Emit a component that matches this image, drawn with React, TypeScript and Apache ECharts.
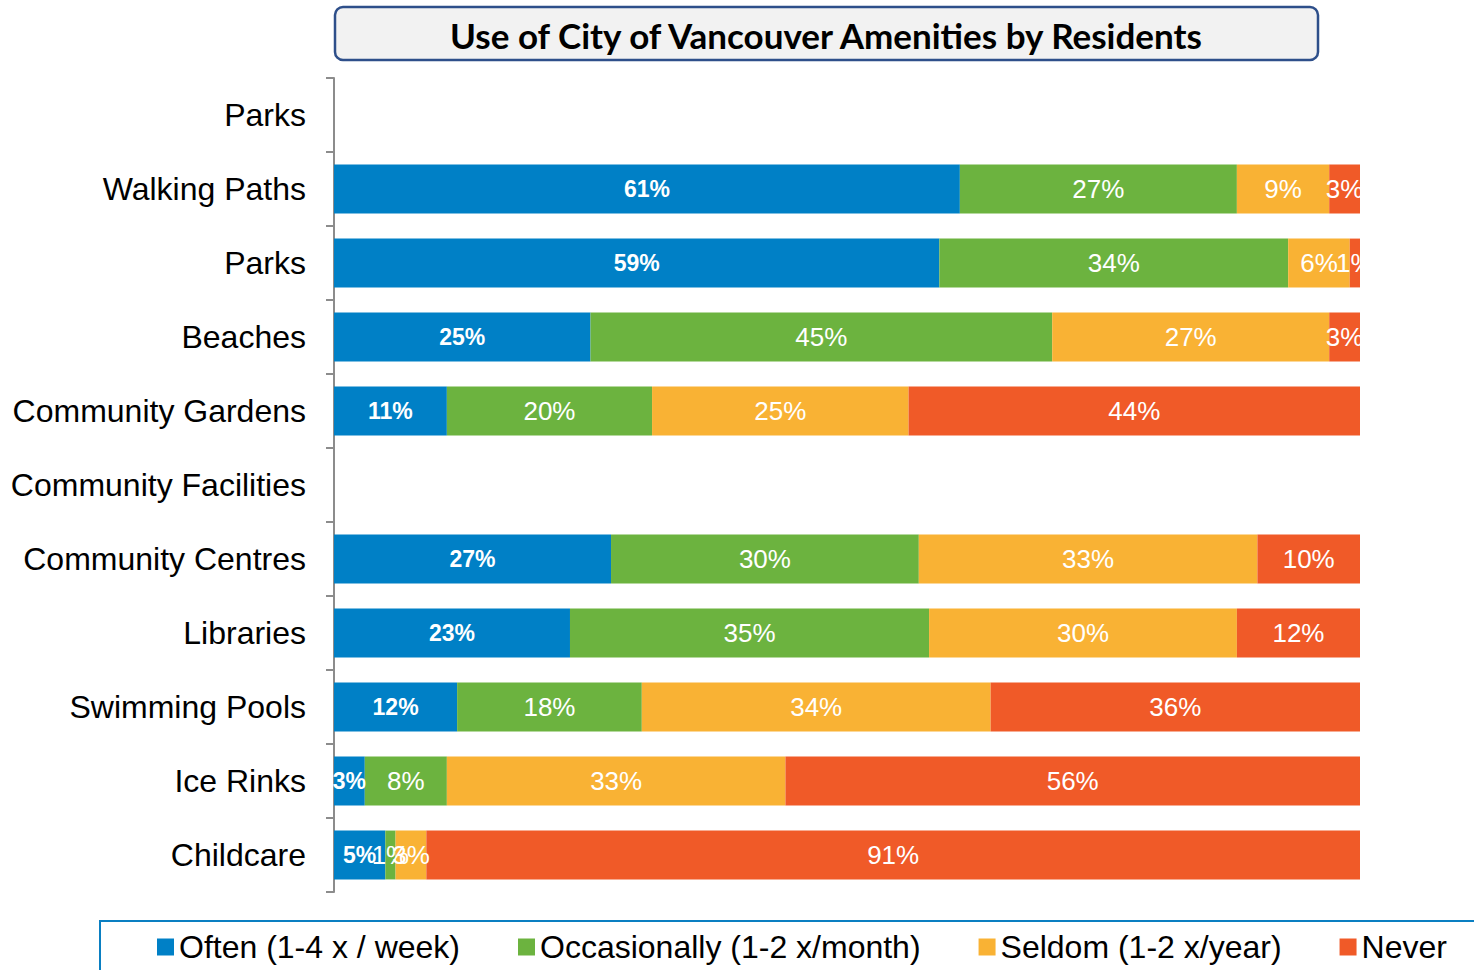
import React, { useEffect, useRef } from "react";
import * as echarts from "echarts";

const categories = [
  "Parks",
  "Walking Paths",
  "Parks",
  "Beaches",
  "Community Gardens",
  "Community Facilities",
  "Community Centres",
  "Libraries",
  "Swimming Pools",
  "Ice Rinks",
  "Childcare",
];

const seriesNames = [
  "Often (1-4 x / week)",
  "Occasionally (1-2 x/month)",
  "Seldom (1-2 x/year)",
  "Never",
];

const often = [null, 61, 59, 25, 11, null, 27, 23, 12, 3, 5];
const occasionally = [null, 27, 34, 45, 20, null, 30, 35, 18, 8, 1];
const seldom = [null, 9, 6, 27, 25, null, 33, 30, 34, 33, 3];
const never = [null, 3, 1, 3, 44, null, 10, 12, 36, 56, 91];

const colors = ["#0080C6", "#6CB33F", "#F9B234", "#F05A28"];

const titleText = "Use of City of Vancouver Amenities by Residents";

export default function App() {
  const ref = useRef<HTMLDivElement>(null);
  useEffect(() => {
    if (!ref.current) return;
    const chart = echarts.init(ref.current, undefined, { renderer: "svg" });
    const values = [often, occasionally, seldom, never];
    const series = values.map((arr, i) => ({
      name: seriesNames[i],
      type: "bar",
      stack: "total",
      barCategoryGap: "34%",
      data: arr,
      itemStyle: { color: colors[i] },
      label: {
        show: true,
        position: "inside",
        formatter: (p: any) => (p.value == null ? "" : p.value + "%"),
        color: "#ffffff",
        fontFamily: "Liberation Sans, Arial, sans-serif",
        fontSize: i === 0 ? 23 : 26,
        fontWeight: i === 0 ? "bold" : "normal",
      },
    }));
    chart.setOption({
      animation: false,
      color: colors,
      textStyle: { fontFamily: "Liberation Sans, Arial, sans-serif" },
      grid: { left: 334, right: 114, top: 78, bottom: 78, containLabel: false },
      xAxis: { type: "value", min: 0, max: 100, show: false },
      yAxis: {
        type: "category",
        inverse: true,
        data: categories,
        axisLine: { show: true, lineStyle: { color: "#8C8C8C", width: 2 } },
        axisTick: { show: true, length: 8, lineStyle: { color: "#8C8C8C", width: 2 } },
        axisLabel: {
          color: "#000000",
          fontSize: 32,
          margin: 28,
          fontFamily: "Liberation Sans, Arial, sans-serif",
        },
        splitLine: { show: false },
      },
      legend: {
        left: 157,
        top: 931,
        padding: 0,
        itemGap: 58,
        itemWidth: 17,
        itemHeight: 17,
        icon: "rect",
        selectedMode: false,
        textStyle: {
          color: "#000000",
          fontSize: 32,
          fontFamily: "Liberation Sans, Arial, sans-serif",
        },
        data: seriesNames,
      },
      graphic: [
        {
          type: "rect",
          shape: { x: 335, y: 7, width: 983, height: 53, r: 8 },
          style: { fill: "#F2F2F2", stroke: "#2E4F8A", lineWidth: 2.5 },
          z: 1,
        },
        {
          type: "text",
          x: 826,
          y: 35,
          z: 2,
          style: {
            text: titleText,
            fill: "#000000",
            font: "bold 35px Lato, 'Open Sans', sans-serif",
            textAlign: "center",
            textVerticalAlign: "middle",
          },
        },
        {
          type: "rect",
          shape: { x: 100, y: 921, width: 1400, height: 70 },
          style: { fill: "none", stroke: "#0A7FC2", lineWidth: 2 },
          z: 1,
        },
      ],
      series,
    });
    return () => chart.dispose();
  }, []);
  return (
    <div
      ref={ref}
      style={{ position: "fixed", left: 0, top: 0, width: 1474, height: 970, background: "#ffffff" }}
    />
  );
}
